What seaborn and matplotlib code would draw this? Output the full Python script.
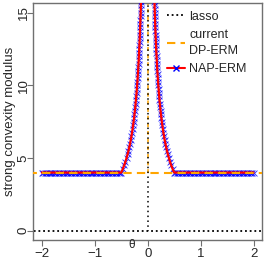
import matplotlib
matplotlib.use("Agg")
import matplotlib.pyplot as plt
from matplotlib.lines import Line2D
import pandas as pd
import seaborn as sns

# positive-theta half of the NAP-ERM curve (mirrored for theta < 0)
flat_theta = [0.525, 0.55, 0.575, 0.60, 0.625, 0.65, 0.675, 0.70, 0.725, 0.75,
              0.775, 0.80, 0.825, 0.85, 0.875, 0.90, 0.925, 0.95, 0.975, 1.00,
              1.025, 1.05, 1.075, 1.10, 1.125, 1.15, 1.175, 1.20, 1.225, 1.25,
              1.275, 1.30, 1.325, 1.35, 1.375, 1.40, 1.425, 1.45, 1.475, 1.50,
              1.525, 1.55, 1.575, 1.60, 1.625, 1.65, 1.675, 1.70, 1.725, 1.75,
              1.775, 1.80, 1.825, 1.85, 1.875, 1.90, 1.925, 1.95, 1.975, 2.00]
flat_y = [4.0] * len(flat_theta)

rise_theta = [0.5, 0.4706, 0.4444, 0.4211, 0.4, 0.3810, 0.3636, 0.3478, 0.3333,
              0.32, 0.3077, 0.2963, 0.2857, 0.2759, 0.2667, 0.2581, 0.25, 0.2424,
              0.2353, 0.2286, 0.2222, 0.2162, 0.2105, 0.2051, 0.2, 0.1951, 0.1905,
              0.1860, 0.1818, 0.1778, 0.1739, 0.1702, 0.1667, 0.1633, 0.16, 0.1569,
              0.1538, 0.1509, 0.1481, 0.1455, 0.1429, 0.1404, 0.1379, 0.1356, 0.1333,
              0.1311, 0.1290, 0.1270, 0.125]
rise_y = [4.0, 4.25, 4.5, 4.75, 5.0, 5.25, 5.5, 5.75, 6.0, 6.25, 6.5, 6.75, 7.0,
          7.25, 7.5, 7.75, 8.0, 8.25, 8.5, 8.75, 9.0, 9.25, 9.5, 9.75, 10.0, 10.25,
          10.5, 10.75, 11.0, 11.25, 11.5, 11.75, 12.0, 12.25, 12.5, 12.75, 13.0,
          13.25, 13.5, 13.75, 14.0, 14.25, 14.5, 14.75, 15.0, 15.25, 15.5, 15.75, 16.0]

# lasso: 0 everywhere, spike at theta = 0
lasso_h_theta = [-2.5, 2.5]
lasso_h_y = [0.0, 0.0]
lasso_v_theta = [0.0, 0.0]
lasso_v_y = [0.0, 20.0]

# current DP-ERM: 4 everywhere, spike at theta = 0
current_h_theta = [-2.5, 2.5]
current_h_y = [4.0, 4.0]
current_v_theta = [0.0, 0.0]
current_v_y = [4.0, 20.0]

x_ticks = [-2, -1, 0, 1, 2]
y_ticks = [0, 5, 10, 15]

# build the full NAP-ERM series ordered by theta
left_theta = [-t for t in flat_theta[::-1]] + [-t for t in rise_theta]
left_y = flat_y[::-1] + rise_y
right_theta = rise_theta[::-1] + flat_theta
right_y = rise_y[::-1] + flat_y
nap = pd.DataFrame({"theta": left_theta + right_theta, "y": left_y + right_y})

sns.set_style("white")
plt.rcParams["font.family"] = ["Liberation Sans", "DejaVu Sans"]

fig = plt.figure(figsize=(2.66, 2.6), dpi=100)
ax = fig.add_axes([33 / 266, 1 - 240 / 260, 229 / 266, 237 / 260])

dot = (0, (1, 1.6))
dash = (0, (4, 2.5))
sns.lineplot(x=lasso_h_theta, y=lasso_h_y, ax=ax, color="black", lw=1.3,
             linestyle=dot, sort=False, estimator=None)
sns.lineplot(x=current_v_theta, y=current_v_y, ax=ax, color="orange", lw=1.1,
             linestyle=(0, (2.5, 2.5)), sort=False, estimator=None)
sns.lineplot(x=lasso_v_theta, y=lasso_v_y, ax=ax, color="black", lw=1.1,
             linestyle=(0.5, (1, 2.2)), sort=False, estimator=None)

sns.scatterplot(data=nap, x="theta", y="y", ax=ax, marker="x", color="blue",
                s=18, linewidth=0.6, alpha=0.85, zorder=3)
sns.lineplot(data=nap, x="theta", y="y", ax=ax, color="red", lw=1.6,
             sort=False, estimator=None, zorder=4)
sns.lineplot(x=current_h_theta, y=current_h_y, ax=ax, color="orange", lw=1.5,
             linestyle=dash, sort=False, estimator=None, zorder=5)

ax.set_xlim(-2.168, 2.16)
ax.set_ylim(-0.64, 15.67)
ax.set_xticks(x_ticks)
ax.set_xticklabels(["\u22122", "\u22121", "0", "1", "2"])
ax.set_yticks(y_ticks)
ax.set_yticklabels([str(v) for v in y_ticks], rotation=90, va="center")
ax.tick_params(axis="both", direction="out", length=4, width=0.8,
               color="#707070", labelsize=9.5, pad=2, left=True, bottom=True)
ax.tick_params(axis="y", pad=-1.5)
for sp in ax.spines.values():
    sp.set_color("#707070")
    sp.set_linewidth(1.0)
ax.set_xlabel("")
ax.set_ylabel("")
fig.text(10 / 266, 1 - 121 / 260, "strong convexity modulus", fontsize=9.5,
         rotation=90, ha="center", va="center")
fig.text(131.5 / 266, 1 - 245 / 260, "\u03b8", fontsize=8.5, ha="center", va="center")

handles = [
    Line2D([], [], color="black", lw=1.3, linestyle=dot),
    Line2D([], [], color="orange", lw=1.5, linestyle=dash),
    Line2D([], [], color="red", lw=1.5, marker="x", mec="blue", ms=5, mew=1),
]
leg = ax.legend(handles, ["lasso", "current\nDP-ERM", "NAP-ERM"], frameon=False,
                loc="upper left", bbox_to_anchor=(158 / 266, 1 - 2 / 260),
                bbox_transform=fig.transFigure, fontsize=9, handlelength=1.45,
                handletextpad=0.35, labelspacing=0.5, borderpad=0.2)
for t in leg.get_texts():
    t.set_linespacing(1.45)

fig.savefig("out.png", dpi=100)
